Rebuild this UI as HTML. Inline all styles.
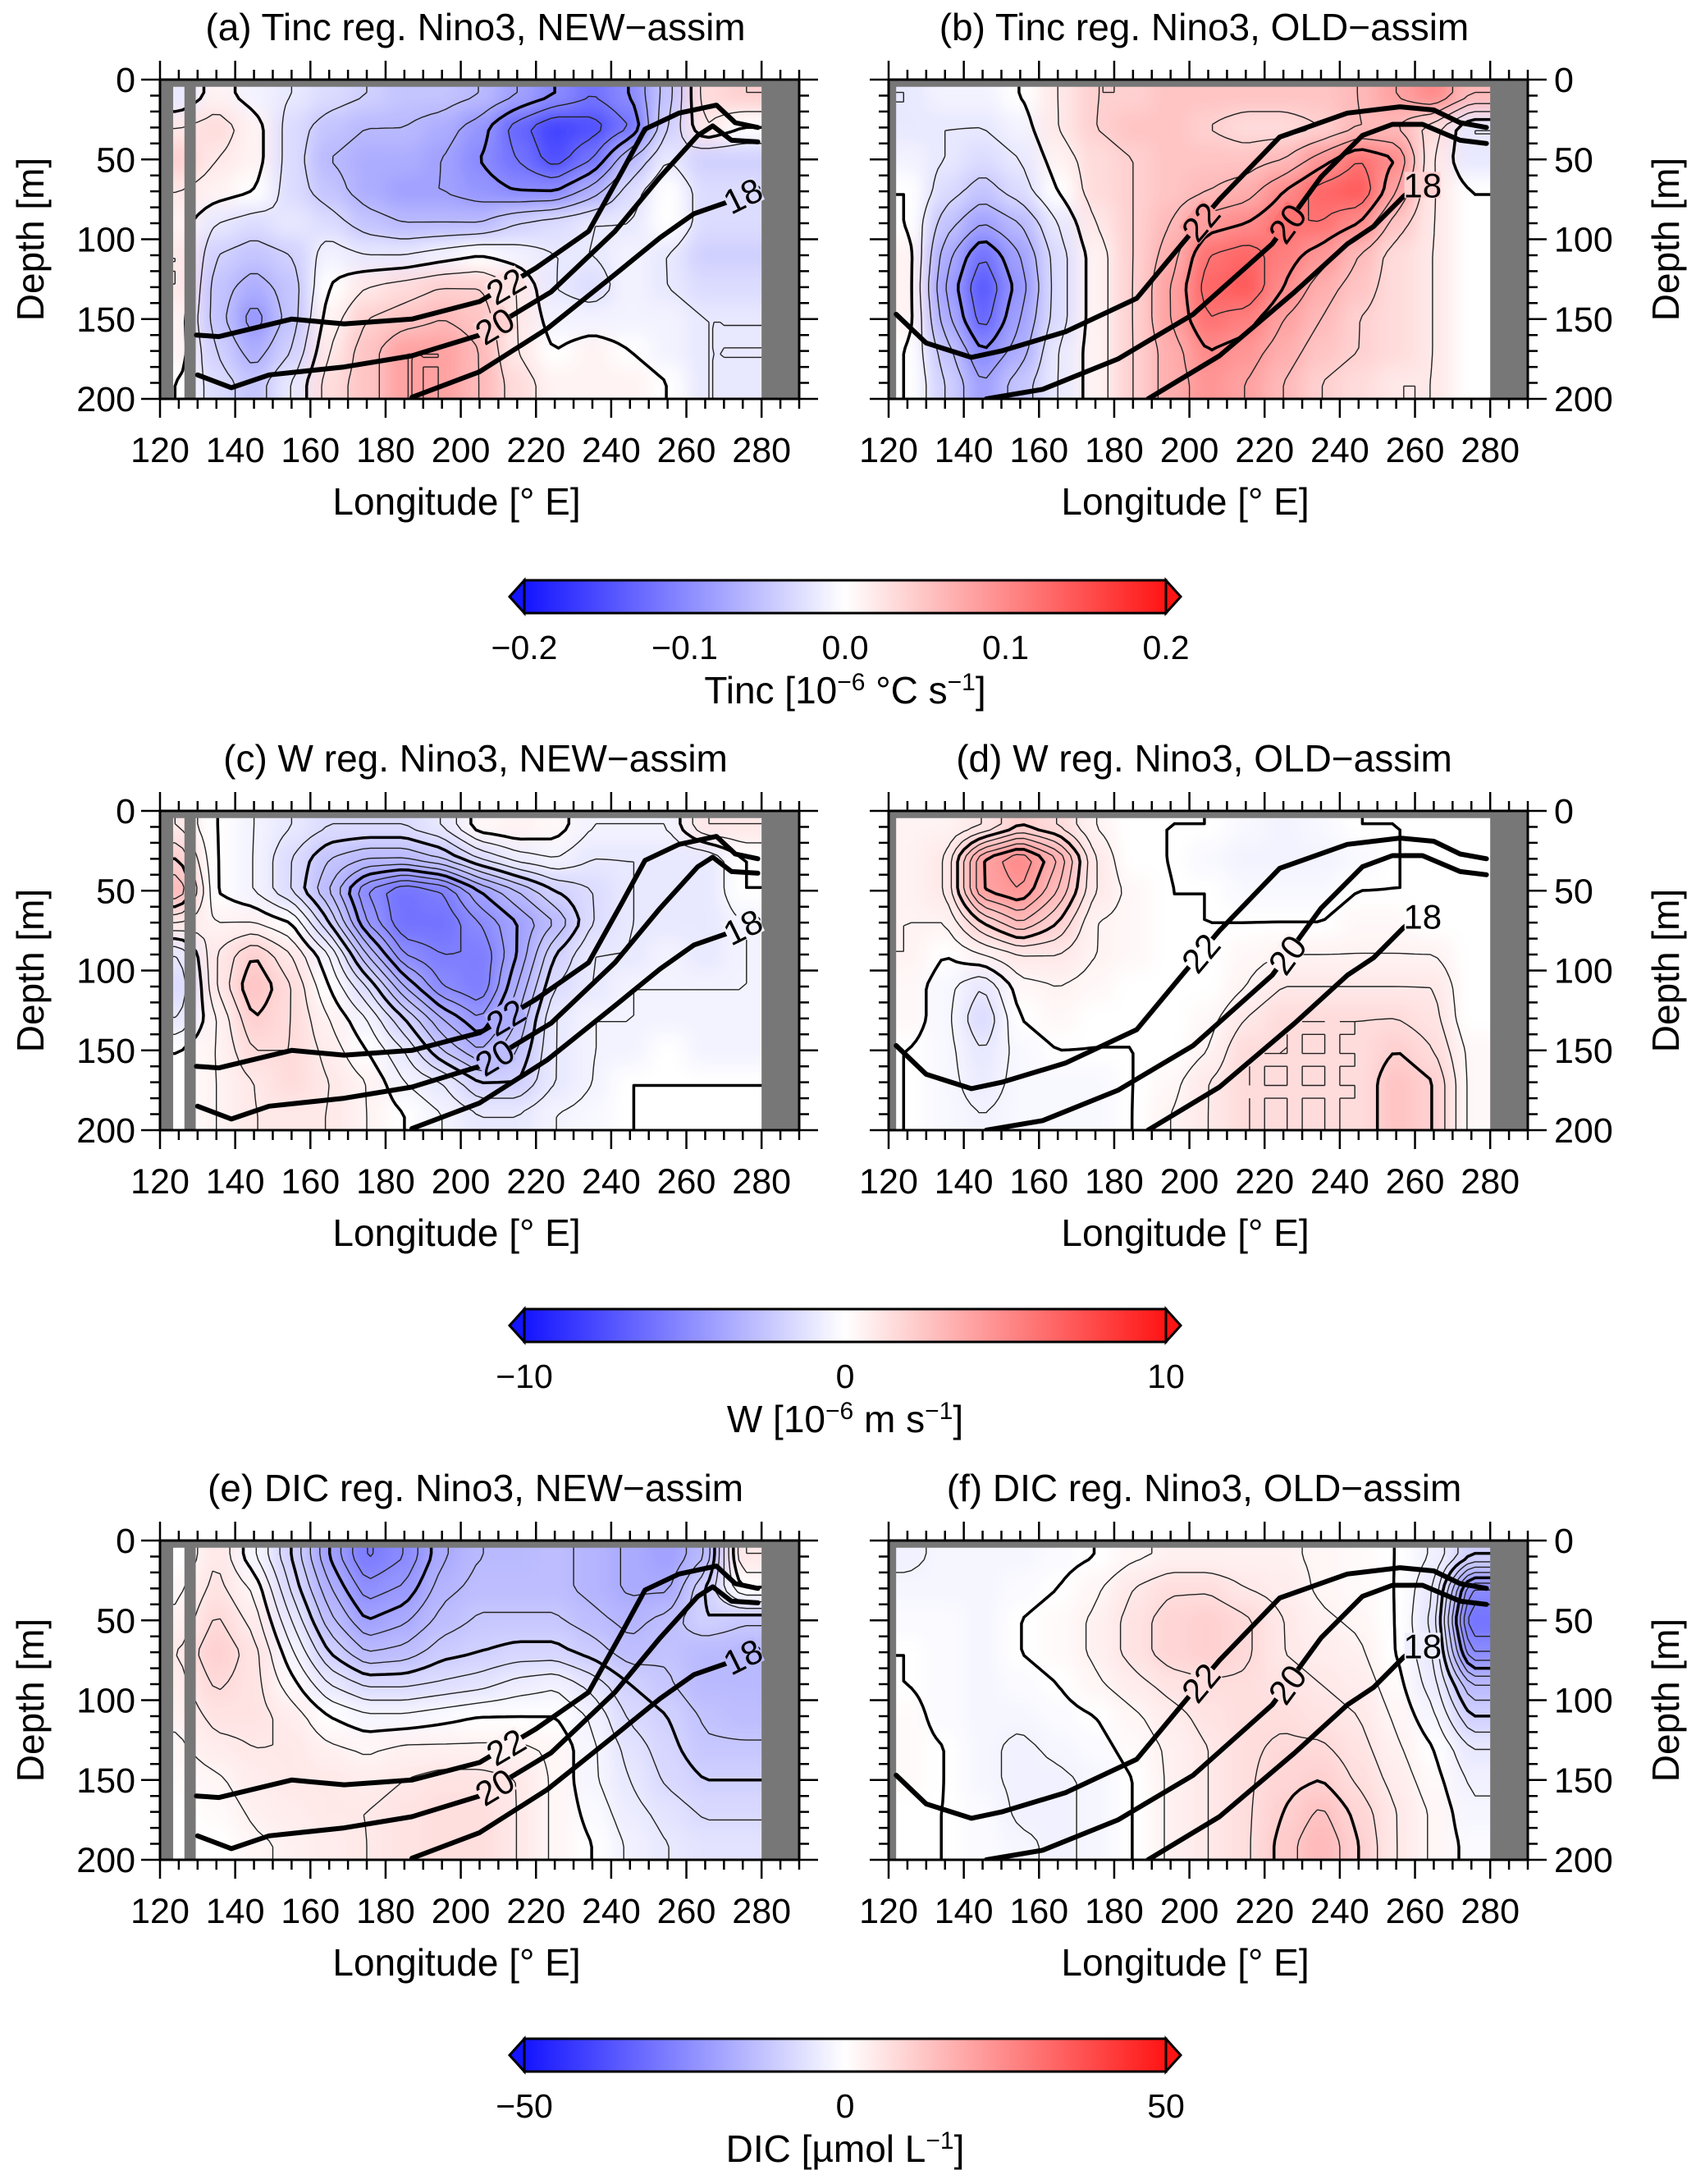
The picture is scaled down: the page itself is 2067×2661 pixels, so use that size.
<!DOCTYPE html>
<html><head><meta charset="utf-8">
<style>
html,body{margin:0;padding:0;background:#fff;}
svg{display:block;font-family:"Liberation Sans",Arial,sans-serif;}
</style></head>
<body>
<svg id="fig" width="2067" height="2661" viewBox="0 0 2067 2661" xmlns="http://www.w3.org/2000/svg">
<defs>
<filter id="blur" x="-10%" y="-10%" width="120%" height="120%"><feGaussianBlur stdDeviation="12"/></filter>
<linearGradient id="cbgrad" x1="0" x2="1" y1="0" y2="0">
<stop offset="0" stop-color="#1414ff"/><stop offset="0.5" stop-color="#ffffff"/><stop offset="1" stop-color="#ff1414"/>
</linearGradient>
</defs>
</svg>
<script>
// ---- data ----
const lonCenters = [125,135,145,155,165,175,185,195,205,215,225,235,245,255,265,275];
const depthCenters = [10,30,50,70,90,110,130,150,170,190];
const xTicks = [120,140,160,180,200,220,240,260,280];
const yTicks = [0,50,100,150,200];

const tincNew = [
[-0.02,0.01,-0.01,-0.02,-0.03,-0.04,-0.05,-0.05,-0.06,-0.08,-0.1,-0.12,-0.1,-0.05,0.03,0.04],
[0.02,0.03,0.01,-0.03,-0.05,-0.06,-0.06,-0.07,-0.09,-0.13,-0.16,-0.15,-0.12,-0.04,0.02,0.0],
[0.04,0.02,0.01,-0.03,-0.06,-0.07,-0.07,-0.08,-0.1,-0.12,-0.15,-0.12,-0.06,-0.02,-0.04,-0.04],
[0.02,0.01,0.0,-0.03,-0.05,-0.07,-0.08,-0.08,-0.09,-0.1,-0.1,-0.07,-0.03,0.0,-0.03,-0.03],
[0.01,-0.02,-0.03,-0.02,-0.03,-0.05,-0.06,-0.06,-0.06,-0.04,-0.03,-0.02,-0.02,0.0,-0.03,-0.03],
[0.02,-0.04,-0.05,-0.04,-0.01,-0.02,-0.02,-0.01,0.0,-0.01,-0.02,-0.02,-0.01,-0.02,-0.04,-0.04],
[0.02,-0.05,-0.07,-0.05,0.0,0.02,0.03,0.04,0.04,0.02,-0.02,-0.03,-0.01,-0.02,-0.03,-0.03],
[0.01,-0.05,-0.09,-0.05,0.01,0.04,0.05,0.06,0.05,0.02,-0.01,-0.01,-0.01,-0.01,-0.02,-0.02],
[0.01,-0.04,-0.07,-0.04,0.02,0.05,0.08,0.08,0.06,0.02,0.0,0.01,0.0,-0.01,-0.02,-0.02],
[0.0,-0.03,-0.05,-0.02,0.03,0.05,0.08,0.08,0.06,0.03,0.01,0.01,0.01,0.0,-0.02,-0.02]];
const tincOld = [
[-0.02,-0.01,-0.01,0.0,0.02,0.04,0.04,0.05,0.05,0.05,0.05,0.05,0.06,0.08,0.1,0.06],
[-0.02,-0.02,-0.02,-0.01,0.02,0.04,0.05,0.05,0.04,0.03,0.03,0.04,0.06,0.06,0.03,-0.02],
[-0.01,-0.02,-0.03,-0.02,0.01,0.03,0.04,0.05,0.05,0.05,0.06,0.09,0.12,0.1,0.02,-0.02],
[0.0,-0.03,-0.05,-0.03,0.0,0.03,0.04,0.05,0.06,0.07,0.1,0.13,0.14,0.08,0.02,0.0],
[0.0,-0.05,-0.08,-0.06,-0.02,0.02,0.04,0.06,0.09,0.1,0.12,0.12,0.1,0.05,0.02,0.0],
[0.01,-0.07,-0.12,-0.08,-0.03,0.01,0.04,0.07,0.12,0.13,0.11,0.09,0.06,0.03,0.02,0.0],
[0.01,-0.08,-0.14,-0.09,-0.03,0.01,0.04,0.08,0.13,0.14,0.1,0.07,0.05,0.03,0.02,0.0],
[0.01,-0.07,-0.13,-0.08,-0.03,0.01,0.04,0.08,0.12,0.11,0.08,0.06,0.04,0.03,0.02,0.0],
[0.0,-0.05,-0.1,-0.07,-0.02,0.01,0.04,0.07,0.1,0.09,0.07,0.05,0.04,0.03,0.02,0.0],
[0.0,-0.04,-0.08,-0.05,-0.02,0.01,0.04,0.07,0.09,0.08,0.06,0.04,0.03,0.02,0.02,0.0]];
const wNew = [
[1,0,-0.5,-1,-1.5,-1.5,-1.5,-1,0.3,0.5,0.3,-0.5,-0.5,-0.5,1,1],
[2,0,-0.5,-1.5,-2.5,-3,-3,-2.5,-1.5,-0.8,-0.5,-1,-1,-1,-1,0],
[3,0,-0.5,-1.5,-3,-5,-6,-5.5,-4,-3,-2,-1.5,-1,-1,-1,0],
[1,0.5,0.5,0,-2,-4.5,-6,-6,-5,-4,-3,-1.5,-1,-1,-1,-0.5],
[-1,1,2,1,-0.5,-3,-5,-5.5,-5.5,-4,-2,-1,-1,-0.5,-1,-0.5],
[-1.5,1,2.5,1.5,0,-1.5,-3.5,-5,-5.5,-3.5,-1.5,-1,-0.5,-0.5,-0.5,-0.5],
[-1,0.5,2,1.5,0.5,-0.5,-2,-3.5,-4.5,-3,-1,-0.5,-0.5,-0.5,-0.5,-0.5],
[0,0.5,1.5,1.5,0.8,0,-1,-2.5,-3.5,-2.5,-1,-0.5,-0.5,0,-0.5,-0.5],
[0,0.5,1,1.5,1,0.5,-0.5,-1,-2,-2,-1,-0.5,0,0,0,0],
[0,0.5,1,1,1,0.5,0,-0.5,-1,-1,-0.5,-0.3,0,0,0,0]];
const wOld = [
[0.5,0.5,1,2,1.5,0.5,0,0,0,-0.3,-0.5,-0.3,0,0,0,0],
[0.5,1,4,5,3.5,1,0,0,-0.3,-0.5,-0.5,-0.5,-0.3,0,0,0],
[0.5,1,4,4.5,3,1,0.3,0,0,-0.3,-0.3,-0.3,0,0,0,0],
[0.5,0.5,2,3,2,0.5,0.3,0,0,0,0,0,0.3,0.3,0,0],
[0.5,0,0.5,1,1,0.5,0.3,0,0,0.3,0.5,0.5,0.5,0.5,0.5,0],
[0.3,-0.3,-1,0.3,0.5,0.3,0,0,0,0.5,1,1,1,1,1,0],
[0.3,-0.3,-1.5,0,0.3,0,0,0,0.3,1,1.5,1.5,1.5,1.5,1.2,0],
[0,-0.3,-1,-0.3,0,0,0,0,0.5,1.5,1.5,1.5,1.5,2,1.5,0.3],
[0,-0.3,-0.8,-0.3,-0.3,-0.3,0,0.3,1,1.5,1.5,1.5,1.5,2.5,2,0.3],
[0,-0.3,-0.5,-0.3,-0.3,-0.3,0,0.5,1,1.5,1.5,1.5,1.5,2.5,2,0.3]];
const dicNew = [
[0,5,-2,-10,-20,-28,-25,-18,-15,-15,-14,-16,-18,-20,-15,5],
[2,6,2,-8,-17,-24,-22,-16,-14,-14,-14,-16,-18,-18,-10,0],
[3,8,4,-5,-14,-20,-18,-14,-12,-12,-12,-14,-16,-14,-10,-12],
[5,10,6,-2,-10,-15,-14,-11,-10,-9,-9,-11,-14,-13,-15,-15],
[4,8,6,1,-5,-8,-8,-7,-6,-4,-3,-6,-10,-12,-15,-15],
[3,6,6,4,0,-2,-2,-1,0,0,0,-3,-8,-10,-13,-14],
[2,4,5,5,3,2,3,3,3,3,2,-2,-6,-9,-12,-12],
[1,2,4,5,5,4,5,6,6,5,2,-2,-5,-8,-10,-10],
[0,1,3,4,5,5,6,7,7,5,2,-1,-4,-6,-8,-8],
[0,0,2,3,4,5,6,7,7,5,2,0,-3,-5,-6,-6]];
const dicOld = [
[-3,-2,-2,-2,-1,0,2,3,3,3,3,2,1,0,-3,-10],
[-2,-2,-2,-1,0,2,5,7,7,5,4,2,1,0,-5,-25],
[-1,-1,-2,0,1,3,6,9,10,8,5,3,2,0,-6,-30],
[0,-1,-2,0,1,3,6,9,10,8,5,4,3,0,-5,-25],
[0,-1,-2,-1,0,2,4,6,7,7,6,5,4,1,-4,-15],
[1,-1,-2,-2,-1,0,2,4,6,7,7,6,5,2,-2,-10],
[1,0,-2,-3,-2,-1,1,3,5,7,8,8,6,3,0,-5],
[1,0,-2,-3,-3,-2,0,3,5,7,9,10,7,4,1,-3],
[0,0,-1,-3,-3,-2,0,3,5,7,10,13,9,5,2,-2],
[0,0,-1,-2,-3,-2,0,3,5,7,11,15,10,5,2,-1]];

// isotherms (lon, depth)
const iso22NewLon = [129.7,135.7,155,169,187,205,220,234,243,249,258,268,273,279];
const iso22NewDep = [160,161,150,153,150,139,118,95,57,31,21,16,27,30];
const iso20NewLon = [130,139,149,169,187,205,224,241,253,263,267,272,279];
const iso20NewDep = [185,193,185,180,173,160,133,95,61,35,29,38,39];
const iso18NewLon = [187,205,223,241,253,262,273,279];
const iso18NewDep = [199,183,156,122,99,84,75,68];
const iso22OldLon = [122,130,142,150,167,186,198,208,224,242,256,265,272,279];
const iso22OldDep = [147,165,174,170,158,137,103,75,36,21,17,19,27,30];
const iso20OldLon = [146,161,181,201,222,235,246,254,262,272,279];
const iso20OldDep = [200,194,175,147,103,61,35,28,28,38,40];
const iso18OldLon = [189,208,228,242,249,257,261];
const iso18OldDep = [200,173,133,103,92,73,66];
const isoLabelLonNew = [212,209,275];
const isoLabelLonOld = [203,226,262];

// ---- layout ----
const svg = document.getElementById('fig');
const NS = 'http://www.w3.org/2000/svg';
const colX = [195, 1083];
const rowY = [97, 988, 1877];
const PW = 779, PH = 389;
function mk(tag, attrs, parent){const e=document.createElementNS(NS,tag);for(const k in attrs)e.setAttribute(k,attrs[k]);(parent||svg).appendChild(e);return e;}
function color(v, vmax){
  let t=Math.max(-1,Math.min(1,v/vmax));
  if(t>=0){const g=Math.round(255-235*t);return `rgb(255,${g},${g})`;}
  const g=Math.round(255+235*t);return `rgb(${g},${g},255)`;
}
function interp1(arr, x){
  if(x<=arr[0])return [0,0];
  if(x>=arr[arr.length-1])return [arr.length-2,1];
  for(let i=0;i<arr.length-1;i++){if(x<=arr[i+1])return [i,(x-arr[i])/(arr[i+1]-arr[i])];}
}
function sample(vals, lon, d){
  const [j,fx]=interp1(lonCenters,lon);const [i,fy]=interp1(depthCenters,d);
  const a=vals[i][j],b=vals[i][j+1],c=vals[i+1][j],e=vals[i+1][j+1];
  return (a*(1-fx)+b*fx)*(1-fy)+(c*(1-fx)+e*fx)*fy;
}
function alongLine(L,D,lon){for(let k=0;k<L.length-1;k++){if(lon>=L[k]&&lon<=L[k+1]){const f=(lon-L[k])/(L[k+1]-L[k]);return [D[k]+(D[k+1]-D[k])*f, Math.atan2(D[k+1]-D[k],L[k+1]-L[k])];}}return [D[D.length-1],0];}

const panels = [
 {id:'a',title:'(a) Tinc reg. Nino3, NEW\u2212assim',vals:tincNew,vmax:0.2,step:0.02,thick:0.1,row:0,col:0,old:false},
 {id:'b',title:'(b) Tinc reg. Nino3, OLD\u2212assim',vals:tincOld,vmax:0.2,step:0.02,thick:0.1,row:0,col:1,old:true},
 {id:'c',title:'(c) W reg. Nino3, NEW\u2212assim',vals:wNew,vmax:10,step:0.5,thick:2,row:1,col:0,old:false},
 {id:'d',title:'(d) W reg. Nino3, OLD\u2212assim',vals:wOld,vmax:10,step:0.5,thick:2,row:1,col:1,old:true},
 {id:'e',title:'(e) DIC reg. Nino3, NEW\u2212assim',vals:dicNew,vmax:50,step:2.5,thick:10,row:2,col:0,old:false},
 {id:'f',title:'(f) DIC reg. Nino3, OLD\u2212assim',vals:dicOld,vmax:50,step:2.5,thick:10,row:2,col:1,old:true}
];

panels.forEach(p=>{
  const x0=colX[p.col], y0=rowY[p.row];
  const xs=lon=>x0+(lon-120)*PW/170;
  const ys=d=>y0+d*PH/200;
  const g=mk('g',{});
  
  
  const cid='clip'+p.id;
  const cp=mk('clipPath',{id:cid},g);mk('rect',{x:x0,y:y0,width:PW,height:PH},cp);
  const clipG=mk('g',{'clip-path':`url(#${cid})`},g);
  const heat=mk('g',{filter:'url(#blur)'},clipG);
  
  
  p.vals.forEach((row,i)=>{
    row.forEach((v,j)=>{
      let l0=lonCenters[j]-5,l1=lonCenters[j]+5,d0=depthCenters[i]-10,d1=depthCenters[i]+10;
      if(j===0)l0=100; if(j===row.length-1)l1=300;
      if(i===0)d0=-30; if(i===p.vals.length-1)d1=240;
      const r=mk('rect',{x:xs(l0),y:ys(d0),width:xs(l1)-xs(l0)+0.5,height:ys(d1)-ys(d0)+0.5,fill:color(v,p.vmax)},heat);
      
      
    });
  });
  const LN=[],DP=[];for(let l=120;l<=280.01;l+=2)LN.push(l);for(let d=0;d<=200.01;d+=4)DP.push(d);
  const F=DP.map(d=>LN.map(l=>sample(p.vals,l,d)));
  let mn=Infinity,mx=-Infinity;F.forEach(r=>r.forEach(v=>{mn=Math.min(mn,v);mx=Math.max(mx,v);}));
  let thin='',thick='';
  for(let lev=Math.ceil(mn/p.step)*p.step; lev<=mx; lev+=p.step){
    const L=Math.round(lev/p.step)*p.step;
    const isThick=Math.abs(L/p.thick-Math.round(L/p.thick))<1e-6;
    let s='';
    for(let i=0;i<DP.length-1;i++)for(let j=0;j<LN.length-1;j++){
      const v=[F[i][j],F[i][j+1],F[i+1][j+1],F[i+1][j]];
      const P=[[LN[j],DP[i]],[LN[j+1],DP[i]],[LN[j+1],DP[i+1]],[LN[j],DP[i+1]]];
      const pts=[];
      for(let e=0;e<4;e++){const a=v[e],b=v[(e+1)%4];
        if((a<L)!==(b<L)){const f=(L-a)/(b-a);const A=P[e],B=P[(e+1)%4];pts.push([A[0]+(B[0]-A[0])*f,A[1]+(B[1]-A[1])*f]);}}
      for(let k=0;k+1<pts.length;k+=2){
        s+=`M${xs(pts[k][0]).toFixed(1)},${ys(pts[k][1]).toFixed(1)}L${xs(pts[k+1][0]).toFixed(1)},${ys(pts[k+1][1]).toFixed(1)}`;}
    }
    if(isThick)thick+=s;else thin+=s;
  }
  const ct=mk('path',{d:thin,stroke:'#222','stroke-width':1.4,fill:'none'},clipG);
  
  
  const ck=mk('path',{d:thick,stroke:'#000','stroke-width':3.5,fill:'none','stroke-linecap':'round'},clipG);
  
  
  const land=[[280,290,0,200],[110,300,0,4.5]];
  if(p.old){land.push([120,122,0,200]);}else{land.push([120,123.5,0,200]);land.push([126.5,129.5,0,200]);}
  land.forEach(Lm=>{const r=mk('rect',{x:xs(Lm[0]),y:ys(Lm[2]),width:xs(Lm[1])-xs(Lm[0]),height:ys(Lm[3])-ys(Lm[2]),fill:'#777'},clipG);
    });
  const isos = p.old ? [[iso22OldLon,iso22OldDep,'22'],[iso20OldLon,iso20OldDep,'20'],[iso18OldLon,iso18OldDep,'18']]
                     : [[iso22NewLon,iso22NewDep,'22'],[iso20NewLon,iso20NewDep,'20'],[iso18NewLon,iso18NewDep,'18']];
  const labLon = p.old ? isoLabelLonOld : isoLabelLonNew;
  isos.forEach((I,n)=>{
    const pts=I[0].map((l,k)=>xs(l).toFixed(1)+','+ys(I[1][k]).toFixed(1)).join(' ');
    const pl=mk('polyline',{points:pts,fill:'none',stroke:'#000','stroke-width':6,'stroke-linejoin':'round','stroke-linecap':'round'},clipG);
    
    
    const [dd,ang]=alongLine(I[0],I[1],labLon[n]);
    const lx=xs(labLon[n]), ly=ys(dd);
    const a=Math.atan2(Math.tan(ang)*PH/200/(PW/170),1)*180/Math.PI;
    const lg=mk('g',{transform:`translate(${lx},${ly}) rotate(${a})`},clipG);
    mk('rect',{x:-22,y:-16,width:44,height:32,fill:color(sample(p.vals,labLon[n],dd),p.vmax)},lg);
    const t=mk('text',{x:0,y:15,'font-size':42,fill:'#000','text-anchor':'middle'},lg);
    t.textContent=I[2];
    
    
  });
  const fr=mk('rect',{x:x0,y:y0,width:PW,height:PH,fill:'none',stroke:'#000','stroke-width':3},g);
  
  
  let tp='';
  for(let l=120;l<=290;l+=5){const X=xs(l);const len=(l%20===0&&l<=280)?23:12;
    tp+=`M${X},${y0}v${-len}M${X},${y0+PH}v${len}`;}
  for(let d=0;d<=200;d+=10){const Y=ys(d);const len=(d%50===0)?23:12;
    tp+=`M${x0},${Y}h${-len}M${x0+PW},${Y}h${len}`;}
  const tk=mk('path',{d:tp,stroke:'#000','stroke-width':2.5,fill:'none'},g);
  
  
  xTicks.forEach(l=>{const t=mk('text',{x:xs(l),y:y0+PH+77,'font-size':43,'text-anchor':'middle'},g);t.textContent=l;
    });
  yTicks.forEach(d=>{
    const t = p.col===0 ? mk('text',{x:x0-30,y:ys(d)+15,'font-size':43,'text-anchor':'end'},g)
                        : mk('text',{x:x0+PW+32,y:ys(d)+15,'font-size':43,'text-anchor':'start'},g);
    t.textContent=d;});
  const xt=mk('text',{x:x0+PW/2-28,y:y0+PH+141,'font-size':46,'text-anchor':'middle'},g);
  xt.textContent='Longitude [\u00B0 E]';
  
  const yx = p.col===0 ? 37 : 2030;
  const yt=mk('text',{x:yx,y:y0+PH/2,'font-size':46,'text-anchor':'middle',transform:`rotate(-90 ${yx} ${y0+PH/2})`,dy:16},g);
  yt.textContent='Depth [m]';
  
  const tt=mk('text',{x:x0+PW/2-5,y:y0-48,'font-size':46,'text-anchor':'middle'},g);
  tt.textContent=p.title;
  
});

// colorbars
const cbTickVals = [[-0.2,-0.1,0.0,0.1,0.2],[-10,0,10],[-50,0,50]];
const cbTickText = [['\u22120.2','\u22120.1','0.0','0.1','0.2'],['\u221210','0','10'],['\u221250','0','50']];
const cbMax = [0.2,10,50];
const cbY = [707,1595,2484];
const cbTitles = [
 'Tinc [10<tspan dy="-16" font-size="30">\u22126</tspan><tspan dy="16"> \u00B0C s</tspan><tspan dy="-16" font-size="30">\u22121</tspan><tspan dy="16">]</tspan>',
 'W [10<tspan dy="-16" font-size="30">\u22126</tspan><tspan dy="16"> m s</tspan><tspan dy="-16" font-size="30">\u22121</tspan><tspan dy="16">]</tspan>',
 'DIC [\u00B5mol L<tspan dy="-16" font-size="30">\u22121</tspan><tspan dy="16">]</tspan>'];
const cbX0=639, cbX1=1421, cbH=40;
cbY.forEach((y,i)=>{
  const g=mk('g',{});
  
  
  mk('polygon',{points:`${cbX0},${y} ${cbX0-18},${y+cbH/2} ${cbX0},${y+cbH}`,fill:'#1414ff',stroke:'#000','stroke-width':3},g);
  mk('polygon',{points:`${cbX1},${y} ${cbX1+18},${y+cbH/2} ${cbX1},${y+cbH}`,fill:'#ff1414',stroke:'#000','stroke-width':3},g);
  mk('rect',{x:cbX0,y:y,width:cbX1-cbX0,height:cbH,fill:'url(#cbgrad)',stroke:'#000','stroke-width':3},g);
  cbTickVals[i].forEach((v,k)=>{
    const X=cbX0+(v+cbMax[i])/(2*cbMax[i])*(cbX1-cbX0);
    const t=mk('text',{x:X,y:y+cbH+56,'font-size':41,'text-anchor':'middle'},g);
    t.textContent=cbTickText[i][k];
    
    
  });
  const t=mk('text',{x:(cbX0+cbX1)/2,y:y+cbH+110,'font-size':46,'text-anchor':'middle'},g);
  t.innerHTML=cbTitles[i];
  
  
});
</script>
</body></html>
